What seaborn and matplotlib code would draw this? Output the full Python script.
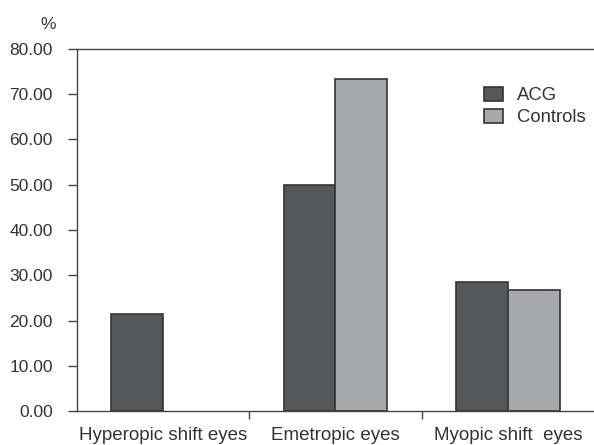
import numpy as np
import pandas as pd
import matplotlib
matplotlib.use("Agg")
import matplotlib.pyplot as plt
import seaborn as sns
from matplotlib.patches import Patch

# data
categories = ['Hyperopic shift eyes', 'Emetropic eyes', 'Myopic shift  eyes']
acg = [21.4, 50.0, 28.6]
controls = [0.0, 73.2, 26.7]
groups = ['ACG', 'Controls']
colors = ['#555759', '#a7a8ab']

df = pd.DataFrame({
    'category': categories * 2,
    'group': ['ACG'] * 3 + ['Controls'] * 3,
    'value': acg + controls,
})

sns.set_style('white')
plt.rcParams['font.family'] = ['Liberation Sans', 'DejaVu Sans']
txt = '#333333'

fig = plt.figure(figsize=(5.94, 4.45), dpi=100)
ax = fig.add_axes([0.1296, 0.0753, 0.8704, 0.8157])

sns.barplot(data=df, x='category', y='value', hue='group', order=categories,
            hue_order=groups, palette=colors, width=0.6, edgecolor='#333333',
            linewidth=1.2, ax=ax, legend=False, saturation=1)

# zero-height bars are not drawn in the reference
for p in ax.patches:
    if p.get_height() == 0:
        p.set_visible(False)

ax.set_xlim(-0.5, 2.5)
ax.set_ylim(0, 80)
ax.set_yticks(np.arange(0, 81, 10))
ax.set_yticklabels([f'{v:.2f}' for v in np.arange(0, 81, 10)])
ax.set_xticks([0, 1, 2])
ax.set_xticklabels(categories)
ax.set_xticks([0.5, 1.5], minor=True)
ax.tick_params(axis='x', which='major', length=0, pad=11, labelsize=13.5, labelcolor=txt)
ax.tick_params(axis='x', which='minor', bottom=True, direction='out', length=6,
               width=1, color='#444444')
ax.tick_params(axis='y', left=True, direction='out', length=6.5, width=1,
               color='#444444', labelsize=12.5, labelcolor=txt, pad=11)
ax.set_xlabel('')
ax.set_ylabel('')

for s in ['left', 'bottom', 'top']:
    ax.spines[s].set_visible(True)
    ax.spines[s].set_color('#444444')
    ax.spines[s].set_linewidth(1.0)
ax.spines['right'].set_visible(False)

fig.text(0.081, 0.945, '%', fontsize=12.5, color=txt, ha='center', va='center')

handles = [Patch(facecolor=c, edgecolor='#333333', linewidth=1.2) for c in colors]
ax.legend(handles, groups, loc='upper left', bbox_to_anchor=(0.755, 0.94),
          frameon=False, fontsize=13.3, handlelength=1.05, handleheight=0.8,
          handletextpad=0.75, labelspacing=0.25, labelcolor=txt)

fig.savefig('out.png', dpi=100)
